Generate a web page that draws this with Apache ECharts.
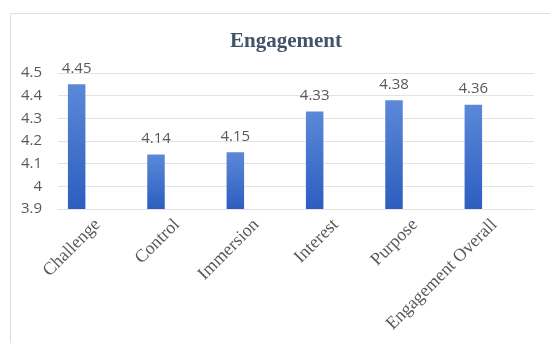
<!DOCTYPE html>
<html>
<head>
<meta charset="utf-8">
<script src="https://cdn.jsdelivr.net/npm/echarts@6/dist/echarts.min.js"></script>
<style>
html,body{margin:0;padding:0;background:#fff;}
#chart{width:550px;height:343px;}
</style>
</head>
<body>
<div id="chart"></div>
<script>
const categories = ['Challenge', 'Control', 'Immersion', 'Interest', 'Purpose', 'Engagement Overall'];
const values = [4.45, 4.14, 4.15, 4.33, 4.38, 4.36];
const yMin = 3.9;
const yMax = 4.5;
const yStep = 0.1;

const chart = echarts.init(document.getElementById('chart'), null, {renderer: 'canvas'});
const grey = '#595959';
const option = {
  animation: false,
  backgroundColor: '#ffffff',
  title: {
    text: 'Engagement',
    left: 281,
    top: 26,
    textAlign: 'center',
    textStyle: {fontFamily: 'Liberation Serif', fontWeight: 'bold', fontSize: 21, color: '#44536a'}
  },
  graphic: [{
    type: 'rect', left: 8, top: 11, silent: true,
    shape: {width: 600, height: 400},
    style: {fill: 'none', stroke: '#dedede', lineWidth: 1}
  }],
  grid: [
    {left: 58, right: 16, top: 73, bottom: 134},
    {left: 37, right: 37, top: 73, bottom: 134}
  ],
  xAxis: [
    {
      type: 'category', gridIndex: 0, data: categories,
      axisLine: {show: true, lineStyle: {color: '#e3e3e3'}},
      axisTick: {show: false},
      axisLabel: {rotate: 45, margin: 13, interval: 0, fontFamily: 'Liberation Serif', fontSize: 18, color: grey}
    },
    {
      type: 'category', gridIndex: 1, data: categories,
      axisLine: {show: false}, axisTick: {show: false}, axisLabel: {show: false}
    }
  ],
  yAxis: [
    {
      type: 'value', gridIndex: 0, min: yMin, max: yMax, interval: yStep,
      axisLine: {show: false}, axisTick: {show: false},
      splitLine: {show: true, lineStyle: {color: '#e3e3e3', width: 1}},
      axisLabel: {margin: 16, fontFamily: 'Open Sans', fontSize: 15, color: grey,
        formatter: v => String(Math.round(v * 10) / 10)}
    },
    {
      type: 'value', gridIndex: 1, min: yMin, max: yMax, interval: yStep,
      axisLine: {show: false}, axisTick: {show: false},
      splitLine: {show: false}, axisLabel: {show: false}
    }
  ],
  series: [{
    type: 'bar',
    xAxisIndex: 1, yAxisIndex: 1,
    data: values,
    barWidth: 17.5,
    itemStyle: {
      color: new echarts.graphic.LinearGradient(0, 0, 0, 1, [
        {offset: 0, color: '#5b88d8'},
        {offset: 1, color: '#2d5ec0'}
      ])
    },
    label: {
      show: true, position: 'top', distance: 8,
      fontFamily: 'Open Sans', fontSize: 15, color: grey,
      formatter: p => p.value.toFixed(2)
    }
  }]
};
chart.setOption(option);
</script>
</body>
</html>
